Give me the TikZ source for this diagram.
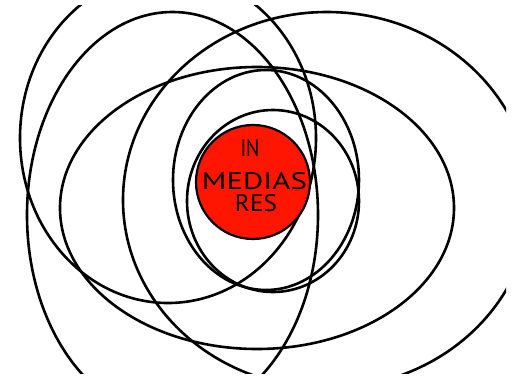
\documentclass[tikz,border=0pt]{standalone}
\usepackage{fontspec}
\setmainfont{PT Sans}
\usepackage{graphicx}
\definecolor{medred}{RGB}{255,22,0}
\begin{document}
\begin{tikzpicture}[x=1pt,y=-1pt,
  orbit/.style={draw=black,line width=2.6pt},
  core/.style={draw=black,line width=2.2pt,fill=medred},
  word/.style={inner sep=0pt,text=black}]
\useasboundingbox (0,0) rectangle (512,378);
\begin{scope}
\clip (0,5) rectangle (506,373);
% big right ellipse
\path[orbit] (327,200) ellipse [x radius=204pt, y radius=188pt];
% wide middle ellipse
\path[orbit] (257,208) ellipse [x radius=197pt, y radius=141pt];
% upper-left tall ellipse
\path[orbit] (168,138) ellipse [x radius=148pt, y radius=165pt];
% lower-left tall ellipse
\path[orbit] (172.5,215) ellipse [x radius=145.5pt, y radius=203pt];
% inner rings
\path[orbit] (266,180) ellipse [x radius=93pt, y radius=110pt];
\path[orbit] (273,201) ellipse [x radius=86pt, y radius=91pt];
\end{scope}
\path[core] (253,182) circle [radius=57pt];
\node[word] (in) at (250,148.5) {\resizebox{19pt}{17pt}{IN}};
\node[word] (medias) at (254.5,181.5) {\resizebox{105pt}{17pt}{MEDIAS}};
\node[word] (res) at (256,203.5) {\resizebox{42pt}{17pt}{RES}};
\end{tikzpicture}
\end{document}
